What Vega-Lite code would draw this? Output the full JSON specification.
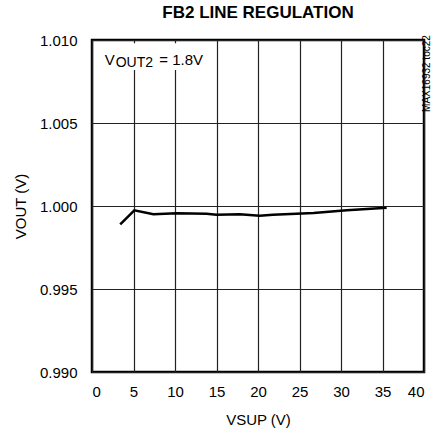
{
  "$schema": "https://vega.github.io/schema/vega-lite/v6.json",
  "width": 332,
  "height": 332,
  "autosize": "none",
  "padding": {"left": 92, "top": 40, "right": 11, "bottom": 64},
  "background": "white",
  "title": {
    "text": "FB2 LINE REGULATION",
    "font": "Liberation Sans",
    "fontSize": 17,
    "fontWeight": "bold",
    "color": "black",
    "offset": 11
  },
  "config": {
    "font": "Liberation Sans",
    "view": {"stroke": "black", "strokeWidth": 2.5},
    "axis": {
      "labelFont": "Liberation Sans",
      "titleFont": "Liberation Sans",
      "labelFontSize": 15,
      "titleFontSize": 15,
      "titleFontWeight": "normal",
      "labelColor": "black",
      "titleColor": "black",
      "domain": false,
      "ticks": false,
      "grid": true,
      "gridColor": "#222222",
      "gridWidth": 1.2,
      "gridOpacity": 1
    }
  },
  "layer": [
    {
      "data": {"values": [
        {"vsup": 3.4, "vout": 0.99889},
        {"vsup": 5.1, "vout": 0.99974},
        {"vsup": 7.4, "vout": 0.99950},
        {"vsup": 10.2, "vout": 0.99956},
        {"vsup": 13.8, "vout": 0.99954},
        {"vsup": 15.0, "vout": 0.99948},
        {"vsup": 17.8, "vout": 0.99950},
        {"vsup": 20.2, "vout": 0.99942},
        {"vsup": 21.8, "vout": 0.99948},
        {"vsup": 26.7, "vout": 0.99958},
        {"vsup": 30.7, "vout": 0.99974},
        {"vsup": 35.5, "vout": 0.99990}
      ]},
      "mark": {"type": "line", "color": "black", "strokeWidth": 2.5},
      "encoding": {
        "x": {
          "field": "vsup", "type": "quantitative", "title": "VSUP (V)",
          "scale": {"domain": [0, 40], "nice": false},
          "axis": {"values": [0, 5, 10, 15, 20, 25, 30, 35, 40], "labelPadding": 12, "titlePadding": 13}
        },
        "y": {
          "field": "vout", "type": "quantitative", "title": "VOUT (V)",
          "scale": {"domain": [0.99, 1.01], "nice": false, "zero": false},
          "axis": {"values": [0.99, 0.995, 1.0, 1.005, 1.01], "format": ".3f", "labelPadding": 15, "titlePadding": 11}
        }
      }
    },
    {
      "data": {"values": [{"x1": 0.9, "x2": 14.4, "y1": 1.0082, "y2": 1.0098}]},
      "mark": {"type": "rect", "color": "white"},
      "encoding": {
        "x": {"field": "x1", "type": "quantitative"},
        "x2": {"field": "x2"},
        "y": {"field": "y1", "type": "quantitative"},
        "y2": {"field": "y2"}
      }
    },
    {
      "data": {"values": [
        {"label": "V", "x": 1.55, "y": 1.00851, "size": 15},
        {"label": "OUT2", "x": 2.85, "y": 1.00836, "size": 14},
        {"label": "= 1.8V", "x": 8.1, "y": 1.00851, "size": 15}
      ]},
      "mark": {"type": "text", "align": "left", "baseline": "alphabetic", "color": "black"},
      "encoding": {
        "x": {"field": "x", "type": "quantitative"},
        "y": {"field": "y", "type": "quantitative"},
        "text": {"field": "label"},
        "size": {"field": "size", "type": "quantitative", "scale": null}
      }
    },
    {
      "data": {"values": [{"label": "MAX16932 toc22", "x": 40.4, "y": 1.00798}]},
      "mark": {"type": "text", "angle": 270, "align": "center", "baseline": "middle", "fontSize": 10, "color": "black"},
      "encoding": {
        "x": {"field": "x", "type": "quantitative"},
        "y": {"field": "y", "type": "quantitative"},
        "text": {"field": "label"}
      }
    }
  ]
}
